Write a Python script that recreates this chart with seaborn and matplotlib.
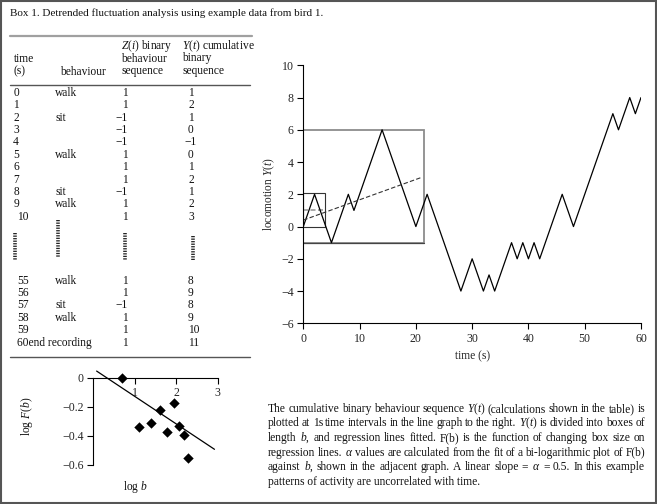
import numpy as np
import pandas as pd
import matplotlib.pyplot as plt
import seaborn as sns
from matplotlib.lines import Line2D
from matplotlib.patches import Rectangle

sns.set_theme(style="white")
plt.rcParams['font.family'] = ['Liberation Serif', 'DejaVu Serif']
plt.rcParams['mathtext.fontset'] = 'custom'
plt.rcParams['mathtext.rm'] = 'Liberation Serif'
plt.rcParams['mathtext.it'] = 'Liberation Serif:italic'
plt.rcParams['text.color'] = '#111111'

# --- data ---
# table rows (first block 0-10 s, last block 55-60 s)
times_top = [0, 1, 2, 3, 4, 5, 6, 7, 8, 9, 10]
behav_top = ['walk', '', 'sit', '', '', 'walk', '', '', 'sit', 'walk', '']
z_top = [1, 1, -1, -1, -1, 1, 1, 1, -1, 1, 1]
y_top = [1, 2, 1, 0, -1, 0, 1, 2, 1, 2, 3]

times_bot = [55, 56, 57, 58, 59, 60]
behav_bot = ['walk', '', 'sit', 'walk', '', 'end recording']
z_bot = [1, 1, -1, 1, 1, 1]
y_bot = [8, 9, 8, 9, 10, 11]

# cumulative sequence turning points for the line graph
loco_t = [0, 2, 5, 8, 9, 14, 20, 22, 28, 30, 32, 33, 34, 37, 38, 39, 40, 41, 42, 46, 48, 55, 56, 58, 59, 60]
loco_y = [0, 2, -1, 2, 1, 6, 0, 2, -4, -2, -4, -3, -4, -1, -2, -1, -2, -1, -2, 2, 0, 7, 6, 8, 7, 8]

# boxes of length b  (x0, x1, y0, y1)
big_box = (0, 21.5, -1, 6)
small_box = (0, 3.8, 0, 2.05)
small_fit_y = 1.02
trend_x = [0, 21.1]
trend_y = [0.4, 3.06]

# bi-logarithmic plot
log_b = [0.69, 1.10, 1.38, 1.61, 1.78, 1.94, 2.07, 2.19, 2.29]
log_F = [0.0, -0.342, -0.315, -0.225, -0.372, -0.177, -0.331, -0.395, -0.552]
fit_slope = -0.19
fit_intercept = 0.061
fit_range = [0.08, 2.92]

title = "Box 1. Detrended fluctuation analysis using example data from bird 1."
paragraph = [
    "The cumulative binary behaviour sequence $Y(t)$ (calculations shown in the table) is",
    "plotted at 1s time intervals in the line graph to the right. $Y(t)$ is divided into boxes of",
    "length $b$, and regression lines fitted. F(b) is the function of changing box size on",
    r"regression lines. $\alpha$ values are calculated from the fit of a bi-logarithmic plot of F(b)",
    r"against $b$, shown in the adjacent graph. A linear slope = $\alpha$ = 0.5. In this example",
    "patterns of activity are uncorrelated with time.",
]

W, H = 657, 504
def fx(x):
    return x / W
def fy(y):
    return 1 - y / H
def num(v):
    return str(v).replace('-', '\u2212')

fig = plt.figure(figsize=(W / 100, H / 100), dpi=100)
fs = 8.0
tfs = 8.3
pfs = 8.3

# frame
fig.add_artist(Rectangle((fx(1), fy(503)), fx(655), 502 / H, transform=fig.transFigure,
                         fill=False, edgecolor='#555555', lw=1.5))
fig.text(fx(10), fy(16.5), title, fontsize=fs, va='baseline', ha='left')

# --- table ---
def hline(x0, x1, y, color, lw):
    fig.add_artist(Line2D([fx(x0), fx(x1)], [fy(y), fy(y)], transform=fig.transFigure, color=color, lw=lw))

def ttext(x, y, s, ha='left'):
    # y is the visual centre of the digits; place on baseline
    fig.text(fx(x), fy(y + 3.8), s, fontsize=tfs, va='baseline', ha=ha)

hline(10, 252, 35.5, '#a0a0a0', 1.6)
hline(10, 250, 84.5, '#555555', 1.0)
hline(10, 250, 357, '#555555', 1.0)

ttext(14, 58, "time")
ttext(14, 70.5, "(s)")
ttext(60, 71, "behaviour")
for k, s in enumerate(["$Z(i)$ binary", "behaviour", "sequence"]):
    ttext(121, 45 + 12.7 * k, s)
for k, s in enumerate(["$Y(t)$ cumulative", "binary", "sequence"]):
    ttext(182.5, 45 + 12.7 * k, s)

def table_row(y, t, b, z, c):
    if b.startswith('end'):
        ttext(17, y, f"{t}{b}")
    else:
        if t < 10:
            ttext(16, y, str(t), ha='center')
        else:
            ttext(17, y, str(t))
        if b:
            ttext(55, y, b)
    ttext(128, y, num(z), ha='right')
    if abs(c) < 10:
        ttext(191, y, num(c), ha='center')
    else:
        ttext(188, y, num(c))

for i, (t, b, z, c) in enumerate(zip(times_top, behav_top, z_top, y_top)):
    table_row(92 + 12.4 * i, t, b, z, c)
for i, (t, b, z, c) in enumerate(zip(times_bot, behav_bot, z_bot, y_bot)):
    table_row(280 + 12.35 * i, t, b, z, c)

# dotted continuation marks
for x, y0, y1 in [(15, 233, 260), (58, 220, 257), (125, 233, 260), (193, 236, 260)]:
    fig.add_artist(Line2D([fx(x), fx(x)], [fy(y0), fy(y1)], transform=fig.transFigure,
                          color='#222222', lw=2.6, dashes=(0.35, 0.35)))

# --- line graph ---
ax = fig.add_axes([fx(303.3), fy(323.3), (641 - 303.3) / W, (323.3 - 65.3) / H])
df = pd.DataFrame({'time': loco_t, 'Y': loco_y})
sns.lineplot(data=df, x='time', y='Y', ax=ax, color='black', lw=0.9, estimator=None, sort=False)

bx0, bx1, by0, by1 = big_box
ax.add_patch(Rectangle((bx0, by0), bx1 - bx0, by1 - by0, fill=False, edgecolor='#8c8c8c', lw=1.3, zorder=1))
ax.plot([bx0, bx1], [by0, by0], color='#444444', lw=0.9, zorder=1)
sx0, sx1, sy0, sy1 = small_box
ax.add_patch(Rectangle((sx0, sy0), sx1 - sx0, sy1 - sy0, fill=False, edgecolor='#333333', lw=0.8, zorder=1))
ax.plot([sx0, sx1], [small_fit_y, small_fit_y], color='#999999', lw=1.2, dashes=(3, 1.5), zorder=1)
ax.plot(trend_x, trend_y, color='#333333', lw=0.8, dashes=(4, 2))

ax.set_xlim(0, 60)
ax.set_ylim(-6, 10)
ax.set_xticks(range(0, 61, 10))
ax.set_yticks(range(-6, 11, 2))
ax.set_yticklabels([num(v) for v in range(-6, 11, 2)])
ax.set_xlabel("time (s)", fontsize=tfs, labelpad=4)
ax.set_ylabel("locomotion $Y(t)$", fontsize=tfs, labelpad=3)
for s in ['top', 'right']:
    ax.spines[s].set_visible(False)
for s in ['left', 'bottom']:
    ax.spines[s].set_color('black')
    ax.spines[s].set_linewidth(0.8)
ax.tick_params(axis='both', direction='out', length=4, width=0.8, labelsize=8.6, pad=3,
               left=True, bottom=True, color='black')
ax.patch.set_alpha(0)

# --- bi-logarithmic plot ---
ax2 = fig.add_axes([fx(93.3), fy(464.7), (217.8 - 93.3) / W, (464.7 - 377.7) / H])
sns.scatterplot(x=log_b, y=log_F, ax=ax2, marker='D', s=28, color='black', edgecolor='black',
                linewidth=0, clip_on=False, zorder=3)
fx_line = np.array(fit_range)
ax2.plot(fx_line, fit_intercept + fit_slope * fx_line, color='black', lw=0.9, clip_on=False)
ax2.set_xlim(0, 3)
ax2.set_ylim(-0.6, 0)
ax2.spines['bottom'].set_position(('data', 0))
for s in ['top', 'right']:
    ax2.spines[s].set_visible(False)
for s in ['left', 'bottom']:
    ax2.spines[s].set_color('black')
    ax2.spines[s].set_linewidth(0.8)
ax2.set_xticks([1, 2, 3])
ax2.set_xticklabels(['1', '2', '3'])
ax2.set_yticks([0, -0.2, -0.4, -0.6])
ax2.set_yticklabels(['0', '\u22120.2', '\u22120.4', '\u22120.6'])
ax2.tick_params(axis='both', direction='out', length=4, width=0.8, labelsize=8.6, pad=3,
                left=True, bottom=True, color='black')
ax2.patch.set_alpha(0)
fig.text(fx(135), fy(487), "log $b$", fontsize=tfs, ha='center', va='center')
fig.text(fx(27), fy(416), "log $F(b)$", fontsize=tfs, ha='center', va='center', rotation=90)

# --- justified paragraph ---
fig.canvas.draw()
renderer = fig.canvas.get_renderer()
px0, px1 = 268, 645
for i, line in enumerate(paragraph):
    yy = 408 + 14.6 * i + 3.8
    if i == len(paragraph) - 1:
        fig.text(fx(px0), fy(yy), line, fontsize=pfs, va='baseline', ha='left')
        continue
    words = line.split(' ')
    texts = [fig.text(0, 0, w, fontsize=pfs, va='baseline', ha='left') for w in words]
    widths = [t.get_window_extent(renderer).width for t in texts]
    gap = (px1 - px0 - sum(widths)) / (len(words) - 1)
    xx = px0
    for t, w in zip(texts, widths):
        t.set_position((fx(xx), fy(yy)))
        xx += w + gap

fig.savefig("out.png", dpi=100, facecolor='white')
